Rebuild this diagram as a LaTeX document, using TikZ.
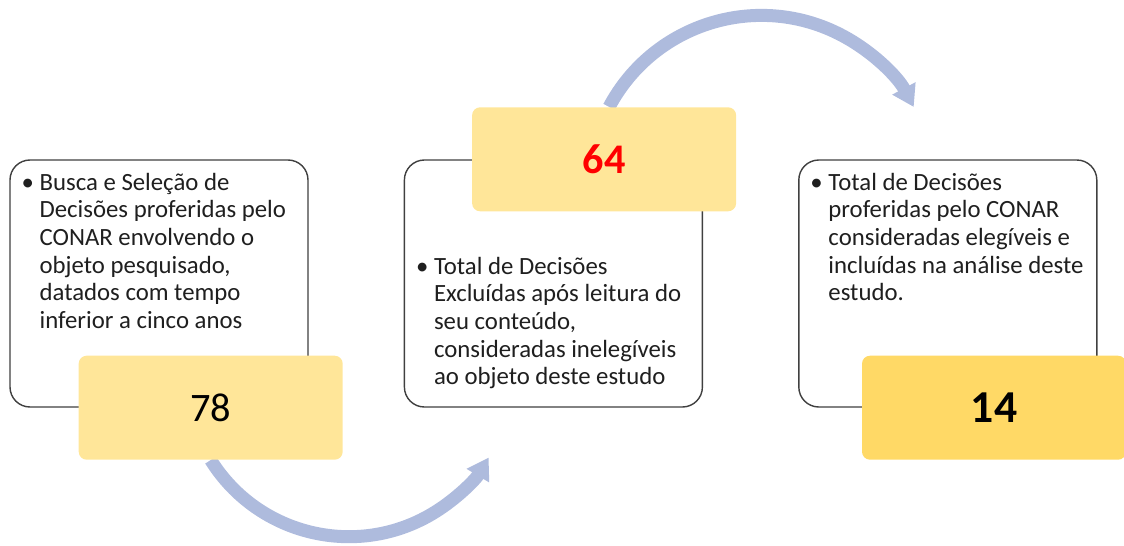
\documentclass[tikz,border=0pt]{standalone}
\usepackage{fontspec}
\setmainfont{Carlito}
\usepackage{tikz}
\usetikzlibrary{arrows.meta}
\usetikzlibrary{positioning}
\usetikzlibrary{backgrounds}

\definecolor{cardline}{RGB}{64,64,64}
\definecolor{paleyellow}{RGB}{255,230,153}
\definecolor{goldyellow}{RGB}{255,217,102}
\definecolor{flowblue}{RGB}{174,187,221}

\begin{document}
\begin{tikzpicture}[card/.style={draw=cardline,line width=0.8pt,fill=white,
    rounded corners=0.4cm,minimum width=5.96cm,minimum height=4.94cm},
  numbox/.style={fill=paleyellow,rounded corners=0.16cm,minimum width=5.28cm,
    minimum height=2.08cm,inner sep=0pt},
  bullets/.style={anchor=base west,inner sep=0pt,text=black!88,
    font=\fontsize{14.1}{15.7}\selectfont},
  flow/.style={draw=flowblue,line width=0.26cm,
    -{Triangle[length=0.42cm,width=0.5cm]}}]

  \useasboundingbox (0,0) rectangle (22.48,10.9);

  \node[card] (b1) at (3.18,5.23) {};
  \node[card] (b2) [right=1.9cm of b1] {};
  \node[card] (b3) [right=1.9cm of b2] {};

  \node[bullets] (t1) at ([xshift=0.24cm,yshift=-0.62cm]b1.north west)
    {\begin{tabular}[t]{@{}l@{}l@{}}
      \makebox[0.36cm][l]{\textbullet} & Busca e Seleção de\\
      & Decisões proferidas pelo\\
      & CONAR envolvendo o\\
      & objeto pesquisado,\\
      & datados com tempo\\
      & inferior a cinco anos
    \end{tabular}};
  \node[bullets] (t2) at ([xshift=0.24cm,yshift=-2.3cm]b2.north west)
    {\begin{tabular}[t]{@{}l@{}l@{}}
      \makebox[0.36cm][l]{\textbullet} & Total de Decisões\\
      & Excluídas após leitura do\\
      & seu conteúdo,\\
      & consideradas inelegíveis\\
      & ao objeto deste estudo
    \end{tabular}};
  \node[bullets] (t3) at ([xshift=0.24cm,yshift=-0.62cm]b3.north west)
    {\begin{tabular}[t]{@{}l@{}l@{}}
      \makebox[0.36cm][l]{\textbullet} & Total de Decisões\\
      & proferidas pelo CONAR\\
      & consideradas elegíveis e\\
      & incluídas na análise deste\\
      & estudo.
    \end{tabular}};

  \node[numbox,font=\fontsize{23}{28}\selectfont] (n78)
    at ([xshift=-1.96cm]b1.south east) {78};
  \node[numbox,font=\fontsize{24}{29}\selectfont\bfseries,text=red] (n64)
    at ([xshift=-1.98cm]b2.north east) {64};
  \node[numbox,fill=goldyellow,font=\fontsize{26}{31}\selectfont\bfseries] (n14)
    at ([xshift=-2.07cm]b3.south east) {14};

  \begin{scope}[on background layer]
    \draw[flow] (n78.south) arc[start angle=212,end angle=329,radius=3.26cm];
    \draw[flow] ([xshift=0.1cm]n64.north) arc[start angle=152,end angle=28,radius=3.45cm];
  \end{scope}
\end{tikzpicture}
\end{document}
